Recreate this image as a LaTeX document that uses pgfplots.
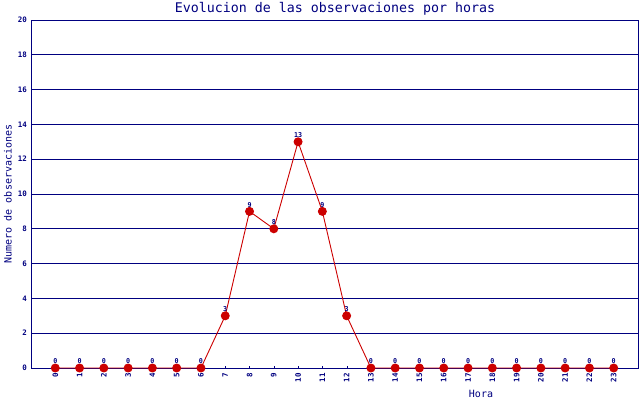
\documentclass[border=0pt]{standalone}
\usepackage{pgfplots}
\pgfplotsset{compat=1.18}
\usepackage{fontspec}
\setmainfont{DejaVu Sans Mono}
\definecolor{navy}{HTML}{000080}
\definecolor{dred}{HTML}{CC0000}
\begin{document}
\begin{tikzpicture}[x=1pt,y=1pt]
\useasboundingbox (0,0) rectangle (640,400);
\begin{axis}[
  at={(31pt,32pt)}, anchor=south west,
  scale only axis, width=607pt, height=348pt,
  xmin=-1, xmax=24, ymin=0, ymax=20,
  xtick={0,...,23}, ytick={0,2,...,20},
  xtick pos=bottom,
  axis line style={navy, line width=1pt},
  ymajorgrids, grid style={navy, line width=1pt},
  major tick length=2pt,
  xtick style={navy}, ytick style={draw=none},
  /pgf/number format/assume math mode=true,
  x tick label style={rotate=90, anchor=east, font=\fontsize{7.5}{7.5}\selectfont\bfseries, text=navy, inner sep=1pt},
  y tick label style={font=\fontsize{7.5}{7.5}\selectfont\bfseries, text=navy, inner sep=1pt},
  xticklabel shift=4pt,
  yticklabel shift=3pt,
  clip=false,
  nodes near coords,
  every node near coord/.append style={font=\fontsize{6.7}{6.7}\selectfont\bfseries, text=navy, inner sep=1pt, anchor=south, yshift=2.5pt},
]
\addplot[dred, line width=0.9pt, mark=*, mark size=4pt, mark options={fill=dred, draw=dred}] coordinates {
(0,0) (1,0) (2,0) (3,0) (4,0) (5,0) (6,0) (7,3) (8,9) (9,8) (10,13) (11,9) (12,3)
(13,0) (14,0) (15,0) (16,0) (17,0) (18,0) (19,0) (20,0) (21,0) (22,0) (23,0)};
\end{axis}
\node[text=navy, font=\fontsize{13.3}{13.3}\selectfont] at (335,391) {Evolucion de las observaciones por horas};
\node[text=navy, font=\fontsize{10}{10}\selectfont, rotate=90] at (8,206) {Numero de observaciones};
\node[text=navy, font=\fontsize{10}{10}\selectfont] at (481,6) {Hora};
\end{tikzpicture}
\end{document}
